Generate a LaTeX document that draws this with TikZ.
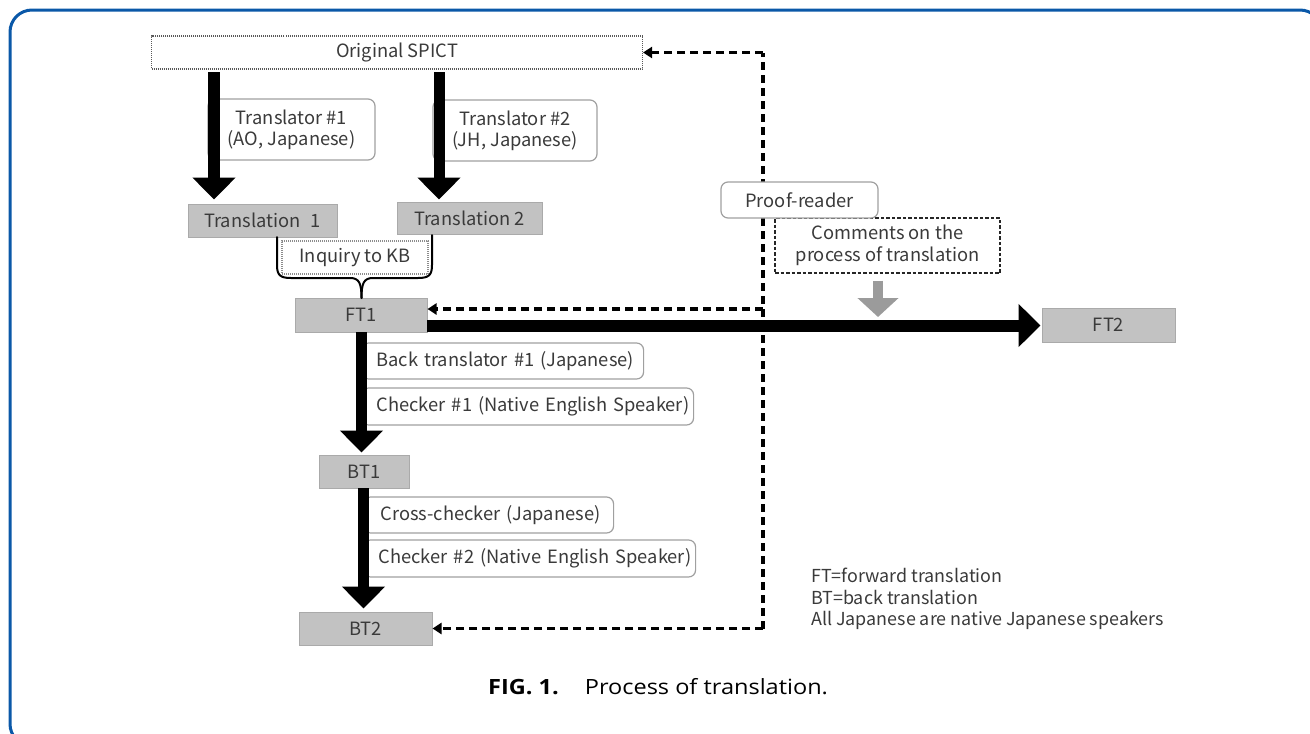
\documentclass[tikz,border=0pt]{standalone}
\usepackage{fontspec}
\setmainfont{Noto Sans CJK JP}
\newfontfamily\capfont{Open Sans}[FakeStretch=1.12]
\usetikzlibrary{arrows.meta}
\definecolor{frameblue}{RGB}{10,88,168}
\definecolor{boxgray}{RGB}{194,194,194}
\definecolor{boxedge}{RGB}{170,170,170}
\definecolor{txt}{RGB}{58,58,58}
\definecolor{lbledge}{RGB}{160,160,160}
\definecolor{arrgray}{RGB}{155,155,155}
\begin{document}
\begin{tikzpicture}[x=1pt,y=-1pt,
  every node/.style={font=\fontsize{18.3}{21}\selectfont, text=txt, inner sep=0pt},
  graybox/.style={draw=boxedge, fill=boxgray, line width=1pt},
  lbl/.style={draw=lbledge, fill=white, line width=1.2pt, rounded corners=7pt},
  dotbox/.style={draw=#1, line width=1.1pt, dash pattern=on 1pt off 1pt, fill=white},
  dashbox/.style={draw=black!85, line width=1.4pt, dash pattern=on 3.5pt off 2pt, fill=white},
  bigarrow/.style={line width=#1, -{Triangle[width=42pt,length=22pt]}},
  grayarrow/.style={arrgray, line width=10pt, -{Triangle[width=40pt,length=19pt]}},
  dasharrow/.style={line width=3.2pt, dash pattern=on 8pt off 5pt, -{Triangle[width=11pt,length=9pt]}},
  dashline/.style={line width=3.2pt, dash pattern=on 8pt off 5pt},
  bracepath/.style={line width=2pt, line cap=round}
]
\useasboundingbox (0,0) rectangle (1310,734);
\begin{scope}
\clip (0,0) rectangle (1310,734);
\draw[frameblue, line width=3pt, rounded corners=22pt] (10,10) rectangle (1322,746);
\end{scope}

% main boxes
\node[dotbox=black!65, minimum width=491pt, minimum height=33pt] (orig) at (397,52.5) {Original SPICT};
\node[graybox, minimum width=149pt, minimum height=33pt] (t1) at (262.5,220.5) {Translation\hspace{0.55em}1};
\node[graybox, minimum width=145pt, minimum height=32pt] (t2) at (469.5,218) {Translation 2};
\node[dotbox=black!45, minimum width=146pt, minimum height=33pt] (inq) at (355,257.5) {Inquiry to KB};
\node[graybox, minimum width=132pt, minimum height=34pt] (ft1) at (361,315) {FT1};
\node[graybox, minimum width=90pt, minimum height=33pt] (bt1) at (364,471.5) {BT1};
\node[graybox, minimum width=133pt, minimum height=33pt] (bt2) at (365.5,628.5) {BT2};
\node[graybox, minimum width=133pt, minimum height=34pt] (ft2) at (1108.5,325) {FT2};

% role labels
\node[lbl, minimum width=167pt, minimum height=61pt, align=center] (tr1) at (291.5,129.5) {Translator \#1\\(AO, Japanese)};
\node[lbl, minimum width=164pt, minimum height=61pt, align=center] (tr2) at (515,130.5) {Translator \#2\\(JH, Japanese)};
\node[lbl, anchor=west, inner xsep=15pt, text width=252pt, align=left, minimum height=36pt] (back) at (361,361) {\mbox{Back translator \#1 (Japanese)}};
\node[lbl, anchor=west, inner xsep=15pt, text width=302pt, align=left, minimum height=37pt] (chk1) at (361,406.5) {\mbox{Checker \#1 (Native English Speaker)}};
\node[lbl, anchor=west, inner xsep=17pt, text width=216pt, align=left, minimum height=36pt] (cross) at (363,515) {\mbox{Cross-checker (Japanese)}};
\node[lbl, anchor=west, inner xsep=15pt, text width=302pt, align=left, minimum height=37pt] (chk2) at (363,558.5) {\mbox{Checker \#2 (Native English Speaker)}};
\node[dashbox, minimum width=225pt, minimum height=55pt, align=center, font=\fontsize{18.3}{22}\selectfont] (comm) at (887.5,245.5) {Comments on the\\process of translation};

% brace
\draw[bracepath] (277,237) -- (277,265) .. controls (277,275) and (280,278) .. (291,278) -- (350,278) .. controls (359,278) and (361.5,283) .. (361.5,298);
\draw[bracepath] (432,235) -- (432,265) .. controls (432,275) and (429,278) .. (418,278) -- (373,278) .. controls (364,278) and (361.5,283) .. (361.5,298);

% black arrows
\coordinate (s1) at (214,72);
\coordinate (s2) at (439,72);
\coordinate (s3) at (361.5,332);
\coordinate (s4) at (363.5,488);
\coordinate (h1) at (427,325.5);
\draw[bigarrow=12pt, shorten >=4pt] (s1) -- (s1 |- t1.north);
\draw[bigarrow=11pt, shorten >=2pt] (s2) -- (s2 |- t2.north);
\draw[bigarrow=11pt, shorten >=2pt] (s3) -- (s3 |- bt1.north);
\draw[bigarrow=11pt, shorten >=3pt] (s4) -- (s4 |- bt2.north);
\draw[bigarrow=12pt, shorten >=1pt] (h1) -- (h1 -| ft2.west);

% gray arrow
\coordinate (gtip) at (878,317);
\draw[grayarrow, shorten <=7pt] (gtip |- comm.south) -- (gtip);

% dashed feedback lines
\coordinate (cTop) at (763,52.5);
\coordinate (cMid) at (763,309);
\coordinate (cBot) at (763,628.5);
\draw[dashline] (cBot) -- (cTop);
\draw[dasharrow] (cTop) -- (orig.east);
\draw[dasharrow] (cMid) -- (cMid -| ft1.east);
\draw[dasharrow] (cBot) -- (bt2.east);

\node[lbl, minimum width=157pt, minimum height=36pt] (proof) at (799.5,200) {Proof-reader};

% legend and caption
\node[anchor=north west, align=left, font=\fontsize{17.9}{21.5}\selectfont] (leg) at (811,568) {FT=forward translation\\BT=back translation\\All Japanese are native Japanese speakers};
\node[anchor=west, text=black, font=\capfont\fontsize{21}{24}\selectfont] (cap) at (488,687) {\textbf{FIG. 1.}\hspace{26pt}Process of translation.};
\end{tikzpicture}
\end{document}
